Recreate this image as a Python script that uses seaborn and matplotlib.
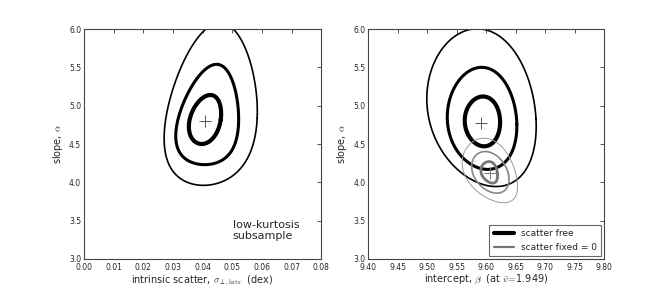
import numpy as np
import pandas as pd
import matplotlib
matplotlib.use("Agg")
import matplotlib.pyplot as plt
from matplotlib.lines import Line2D
import seaborn as sns

# ---------------- data ----------------
# contour levels: inner (1 sigma), middle (2 sigma), outer (3 sigma)
# each contour: centre x/y, half-width, half-height, height asymmetry,
# y-tilt, x-shear, x-bend, taper of the upper part
left_cx = [0.04085, 0.0417, 0.0430]
left_cy = [4.815, 4.75, 4.835]
left_wx = [0.00525, 0.0104, 0.0154]
left_hy = [0.32, 0.655, 1.06]
left_ny = [0.005, 0.135, 0.185]
left_q = [0.0, 0.0, 0.0]
left_a = [0.00145, 0.0020, 0.0028]
left_b = [0.0003, 0.0010, 0.0001]
left_k = [0.05, 0.10, 0.10]
left_best = (0.0408, 4.80)

free_cx = [9.5936, 9.593, 9.592]
free_cy = [4.795, 4.795, 4.925]
free_wx = [0.030, 0.059, 0.0925]
free_hy = [0.325, 0.665, 1.025]
free_ny = [0.0, 0.04, 0.05]
free_q = [-0.01, -0.04, -0.10]
free_a = [0.0, -0.0015, -0.007]
free_b = [0.002, 0.004, 0.008]
free_k = [0.0, 0.0, 0.0]
free_best = (9.5915, 4.78)

fixed_cx = [9.605, 9.607, 9.606]
fixed_cy = [4.13, 4.125, 4.12]
fixed_wx = [0.014, 0.031, 0.046]
fixed_hy = [0.14, 0.27, 0.415]
fixed_ny = [0.0, 0.005, 0.035]
fixed_q = [-0.012, -0.03, -0.07]
fixed_a = [-0.002, -0.0065, -0.0092]
fixed_b = [0.003, 0.001, 0.006]
fixed_k = [0.0, 0.0, 0.0]
fixed_best = (9.606, 4.12)

left_xticks = [0.00, 0.01, 0.02, 0.03, 0.04, 0.05, 0.06, 0.07, 0.08]
right_xticks = [9.40, 9.45, 9.50, 9.55, 9.60, 9.65, 9.70, 9.75, 9.80]
yticks = [3.0, 3.5, 4.0, 4.5, 5.0, 5.5, 6.0]

legend_labels = ["scatter free", "scatter fixed = 0"]
annot_text = "low-kurtosis\nsubsample"

# ---------------- styles ----------------
black_lw = [3.0, 2.2, 1.2]
gray_lw = [2.0, 1.2, 0.7]
gray_col = ["#777777", "#888888", "#999999"]


def contour_frame(cx, cy, wx, hy, ny, q, a, b, k, n=360):
    t = np.linspace(0, 2 * np.pi, n)
    u, v = np.cos(t), np.sin(t)
    x = cx + wx * u * (1 - k * v) + a * v + b * v ** 2
    y = cy + hy * v + ny * v ** 2 + q * u
    return pd.DataFrame({"x": x, "y": y})


def draw_set(ax, p, lws, cols):
    for i in range(len(p[0])):
        df = contour_frame(*[arr[i] for arr in p])
        sns.lineplot(data=df, x="x", y="y", sort=False, estimator=None,
                     color=cols[i], lw=lws[i], ax=ax, legend=False)


sns.set_style("white")
plt.rcParams["font.family"] = ["DejaVu Sans"]
plt.rcParams["mathtext.fontset"] = "cm"

fig = plt.figure(figsize=(6.72, 2.88), dpi=100)
ax1 = fig.add_axes([0.125, 0.101, 0.353, 0.798])
ax2 = fig.add_axes([0.548, 0.101, 0.351, 0.798])

draw_set(ax1, [left_cx, left_cy, left_wx, left_hy, left_ny, left_q, left_a, left_b, left_k],
         black_lw, ["black"] * 3)
ax1.plot([left_best[0]], [left_best[1]], marker="+", ms=8, mew=0.7, color="#555555")

draw_set(ax2, [free_cx, free_cy, free_wx, free_hy, free_ny, free_q, free_a, free_b, free_k],
         black_lw, ["black"] * 3)
ax2.plot([free_best[0]], [free_best[1]], marker="+", ms=8, mew=0.7, color="#555555")
draw_set(ax2, [fixed_cx, fixed_cy, fixed_wx, fixed_hy, fixed_ny, fixed_q, fixed_a, fixed_b,
               fixed_k], gray_lw, gray_col)
ax2.plot([fixed_best[0]], [fixed_best[1]], marker="+", ms=8, mew=0.7, color="#777777")

for ax, xt in ((ax1, left_xticks), (ax2, right_xticks)):
    ax.set_xlim(xt[0], xt[-1])
    ax.set_ylim(yticks[0], yticks[-1])
    ax.set_xticks(xt)
    ax.set_yticks(yticks)
    ax.set_yticklabels([f"{v:.1f}" for v in yticks])
    ax.tick_params(direction="in", length=3, width=0.6, labelsize=5.5,
                   top=True, right=True, pad=2, color="#333333")
    ax.tick_params(axis="x", pad=3)
    for s in ax.spines.values():
        s.set_color("#444444")
        s.set_linewidth(0.8)
    ax.set_ylabel(r"slope, $\alpha$", fontsize=7, labelpad=3)

ax1.set_xticklabels([f"{v:.2f}" for v in left_xticks])
ax2.set_xticklabels([f"{v:.2f}" for v in right_xticks])
ax1.set_xlabel(r"intrinsic scatter, $\sigma_{\perp,\mathrm{intr}}$  (dex)", fontsize=7, labelpad=0.5)
ax2.set_xlabel(r"intercept, $\beta$  (at $\bar{v}\!=\!$1.949)", fontsize=7, labelpad=0.5)

ax1.text(0.0502, 3.37, annot_text, fontsize=8, ha="left", va="center", linespacing=1.1)

handles = [Line2D([], [], color="black", lw=3.0),
           Line2D([], [], color="#777777", lw=1.6)]
leg = ax2.legend(handles, legend_labels, loc="lower right", fontsize=6.5,
                 frameon=True, fancybox=False, borderaxespad=0.3,
                 handlelength=2.2, borderpad=0.5, labelspacing=0.5)
leg.get_frame().set_edgecolor("#444444")
leg.get_frame().set_linewidth(0.8)

fig.savefig("out.png", dpi=100)
